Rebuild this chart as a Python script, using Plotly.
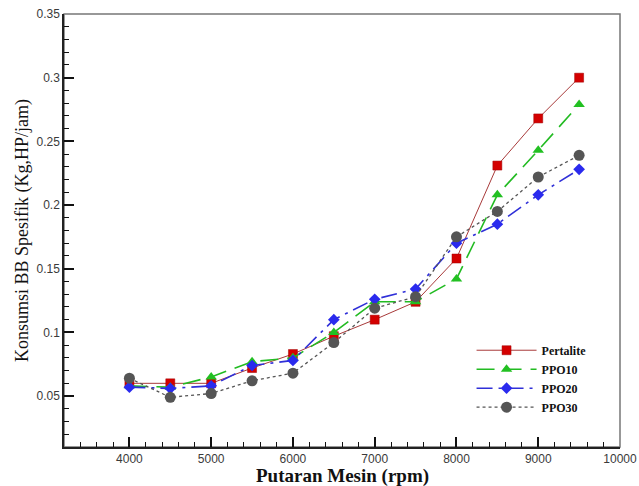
import plotly.graph_objects as go

# Engine speed (rpm) and specific fuel consumption per fuel blend
rpm = [4000, 4500, 5000, 5500, 6000, 6500, 7000, 7500, 8000, 8500, 9000, 9500]
pertalite = [0.060, 0.060, 0.060, 0.072, 0.083, 0.097, 0.110, 0.124, 0.158, 0.231, 0.268, 0.300]
ppo10 = [0.058, 0.057, 0.065, 0.077, 0.080, 0.100, 0.124, 0.124, 0.142, 0.208, 0.243, 0.279]
ppo20 = [0.057, 0.056, 0.058, 0.074, 0.078, 0.110, 0.126, 0.134, 0.170, 0.185, 0.208, 0.228]
ppo30 = [0.064, 0.049, 0.052, 0.062, 0.068, 0.092, 0.119, 0.128, 0.175, 0.195, 0.222, 0.239]

x_title = "Putaran Mesin (rpm)"
y_title = "Konsumsi BB Spesifik (Kg,HP/jam)"

series = [
    ("Pertalite", pertalite, dict(color="#a83a3a", width=1, dash="solid"),
     dict(symbol="square", size=9, color="#d40000", line=dict(color="#a00000", width=0.5))),
    ("PPO10", ppo10, dict(color="#22bb22", width=1.6, dash="18px,9px"),
     dict(symbol="triangle-up", size=10, color="#22c022", line=dict(width=0))),
    ("PPO20", ppo20, dict(color="#3030d8", width=1.6, dash="16px,6px,3px,6px"),
     dict(symbol="diamond", size=9, color="#2a2aee", line=dict(width=0))),
    ("PPO30", ppo30, dict(color="#555555", width=1.3, dash="dot"),
     dict(symbol="circle", size=11, color="#555555", line=dict(width=0))),
]

fig = go.Figure()
for name, vals, line, marker in series:
    fig.add_trace(go.Scatter(x=rpm, y=vals, name="<b>%s</b>" % name, mode="lines+markers",
                             line=line, marker=marker))

serif = "Liberation Serif, Times New Roman, serif"
tick_font = dict(family="Liberation Sans, Arial, sans-serif", size=12, color="#3a3a3a")

fig.update_layout(
    width=639, height=486,
    margin=dict(l=64, r=19, t=14, b=39),
    paper_bgcolor="white", plot_bgcolor="white",
    showlegend=True,
    legend=dict(x=0.733, y=0.257, xanchor="left", yanchor="top",
                bgcolor="rgba(0,0,0,0)", borderwidth=0,
                font=dict(family=serif, size=12, color="#111111"),
                itemwidth=60, tracegroupgap=0),
    xaxis=dict(
        range=[3200, 10000], tick0=0, dtick=1000, tickformat="d", automargin=False,
        ticks="inside", ticklen=10, tickwidth=2, tickcolor="#111111",
        minor=dict(ticks="inside", ticklen=5, tickwidth=1, tickcolor="#111111", dtick=200, showgrid=False),
        showgrid=False, zeroline=False,
        showline=True, linecolor="#222222", linewidth=1.5,
        tickfont=tick_font,
    ),
    yaxis=dict(
        range=[0.01, 0.35], tick0=0, dtick=0.05, automargin=False,
        ticks="inside", ticklen=10, tickwidth=2, tickcolor="#111111",
        minor=dict(ticks="inside", ticklen=5, tickwidth=1, tickcolor="#111111", dtick=0.01, showgrid=False),
        showgrid=False, zeroline=False,
        showline=True, linecolor="#222222", linewidth=1.5,
        tickfont=tick_font,
        title=dict(text=y_title, standoff=3,
                   font=dict(family=serif, size=18, color="#111111")),
    ),
    annotations=[dict(text="<b>%s</b>" % x_title, xref="paper", yref="paper",
                      x=0.5, y=-0.068, xanchor="center", yanchor="middle", showarrow=False,
                      font=dict(family=serif, size=19, color="#111111"))],
    shapes=[dict(type="rect", xref="paper", yref="paper", x0=0, y0=0, x1=1, y1=1,
                 line=dict(color="#777777", width=1.5), layer="below")],
)

fig.write_html("out.html")
